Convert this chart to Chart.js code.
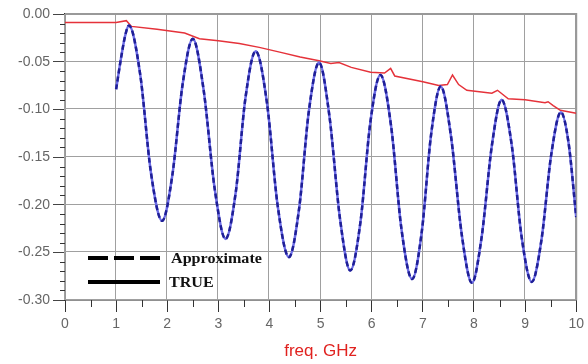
<!doctype html>
<html lang="en">
  <head>
    <meta charset="utf-8">
    <title>freq. GHz</title>
    <style>
      * { margin: 0; padding: 0; }
      body { background: white; }
      .chartBox { width: 588px; height: 364px; }
    </style>
  </head>
  <body>
    <div class="chartBox">
      <canvas id="myChart"></canvas>
    </div>

    <script src="https://cdn.jsdelivr.net/npm/chart.js/dist/chart.umd.min.js"></script>
    <script>
    // data
    const approxFreq = [1.00, 1.10, 1.18, 1.25, 1.47, 1.68, 1.90, 2.10, 2.30, 2.50, 2.71, 2.93, 3.14,
      3.34, 3.53, 3.73, 3.95, 4.16, 4.38, 4.58, 4.77, 4.97, 5.17, 5.38, 5.58, 5.78, 5.97, 6.17,
      6.38, 6.58, 6.79, 6.98, 7.16, 7.35, 7.55, 7.76, 7.96, 8.15, 8.35, 8.54, 8.74, 8.93, 9.13,
      9.32, 9.51, 9.70, 9.85, 10.00];
    const approxVals = [-0.079, -0.045, -0.022, -0.012, -0.063, -0.166, -0.217, -0.169, -0.074, -0.026, -0.079, -0.184, -0.236,
      -0.187, -0.088, -0.039, -0.093, -0.201, -0.255, -0.204, -0.102, -0.051, -0.106, -0.215, -0.269, -0.218, -0.115, -0.064,
      -0.118, -0.225, -0.278, -0.228, -0.127, -0.076, -0.128, -0.231, -0.282, -0.234, -0.138, -0.090, -0.138, -0.233, -0.281,
      -0.237, -0.148, -0.103, -0.135, -0.213];

    const trueFreq = [0, 1.00, 1.20, 1.30, 1.80, 2.34, 2.63, 3.00, 3.41, 3.80, 4.20, 4.60, 4.97, 5.20, 5.36,
      5.60, 5.98, 6.25, 6.37, 6.45, 7.00, 7.31, 7.48, 7.58, 7.70, 7.86, 8.35, 8.46, 8.67, 9.00,
      9.39, 9.45, 9.55, 9.69, 10.00];
    const trueVals = [-0.009, -0.009, -0.007, -0.013, -0.016, -0.020, -0.026, -0.028, -0.031, -0.035, -0.040, -0.045, -0.049, -0.052, -0.051,
      -0.056, -0.061, -0.062, -0.057, -0.065, -0.071, -0.075, -0.074, -0.064, -0.074, -0.080, -0.083, -0.080, -0.089, -0.090,
      -0.093, -0.092, -0.096, -0.101, -0.104];

    const xMin = 0, xMax = 10, xStep = 0.5;
    const yMin = -0.30, yMax = 0, yStep = 0.01;

    const approxPts = approxFreq.map((f, i) => ({ x: f, y: approxVals[i] }));
    const truePts = trueFreq.map((f, i) => ({ x: f, y: trueVals[i] }));

    const isMajorX = v => Math.abs(v - Math.round(v)) < 1e-6;
    const isMajorY = v => Math.abs(v * 100 / 5 - Math.round(v * 100 / 5)) < 1e-6;

    // grid, frame, minor ticks and legend
    const extras = {
      id: 'extras',
      beforeDatasetsDraw(chart) {
        const { ctx, chartArea: a, scales: { x, y } } = chart;
        ctx.save();
        ctx.fillStyle = '#a0a0a0';
        x.ticks.forEach(t => {
          if (!isMajorX(t.value)) return;
          const px = Math.round(x.getPixelForValue(t.value));
          ctx.fillRect(px - 1, a.top, 1, a.bottom - a.top);
        });
        y.ticks.forEach(t => {
          if (!isMajorY(t.value)) return;
          const py = Math.round(y.getPixelForValue(t.value));
          ctx.fillRect(a.left, py - 1, a.right - a.left, 1);
        });

        ctx.strokeStyle = '#999';
        ctx.lineWidth = 2;
        ctx.beginPath();
        ctx.moveTo(a.left, a.top);
        ctx.lineTo(a.right, a.top);
        ctx.lineTo(a.right, a.bottom);
        ctx.stroke();
        ctx.restore();
      },
      afterDraw(chart) {
        const { ctx, chartArea: a, scales: { x, y } } = chart;
        ctx.save();
        ctx.strokeStyle = '#333';
        ctx.lineWidth = 1;
        ctx.beginPath();
        y.ticks.forEach(t => {
          if (isMajorY(t.value)) return;
          const py = Math.round(y.getPixelForValue(t.value)) + 0.5;
          ctx.moveTo(a.left - 5, py);
          ctx.lineTo(a.left, py);
        });
        x.ticks.forEach(t => {
          if (isMajorX(t.value)) return;
          const px = Math.round(x.getPixelForValue(t.value)) + 0.5;
          ctx.moveTo(px, a.bottom);
          ctx.lineTo(px, a.bottom + 7);
        });
        ctx.stroke();

        // legend
        ctx.strokeStyle = '#000';
        ctx.lineWidth = 4;
        ctx.setLineDash([20, 6]);
        ctx.beginPath();
        ctx.moveTo(88, 258);
        ctx.lineTo(160, 258);
        ctx.stroke();
        ctx.setLineDash([]);
        ctx.beginPath();
        ctx.moveTo(88, 282);
        ctx.lineTo(160, 282);
        ctx.stroke();

        ctx.fillStyle = '#111';
        ctx.font = 'bold 14px "Liberation Serif", serif';
        ctx.textBaseline = 'middle';
        ctx.translate(171, 0);
        ctx.scale(1.15, 1);
        ctx.fillText('Approximate', 0, 259);
        ctx.fillText('TRUE', -2 / 1.15, 283);
        ctx.restore();
      }
    };

    const config = {
      type: 'scatter',
      data: {
        datasets: [
          {
            label: 'Approximate',
            data: approxPts,
            showLine: true,
            borderColor: '#1f1f96',
            borderWidth: 2.5,
            borderDash: [5, 3],
            pointRadius: 0,
            cubicInterpolationMode: 'monotone'
          },
          {
            label: 'Approximate base',
            data: approxPts,
            showLine: true,
            borderColor: '#6c6ce6',
            borderWidth: 2.5,
            pointRadius: 0,
            cubicInterpolationMode: 'monotone'
          },
          {
            label: 'TRUE',
            data: truePts,
            showLine: true,
            borderColor: '#e5323a',
            borderWidth: 1.5,
            pointRadius: 0,
            tension: 0
          }
        ]
      },
      options: {
        responsive: true,
        maintainAspectRatio: false,
        animation: false,
        layout: { padding: { top: 14, right: 10, left: 0, bottom: 0 } },
        plugins: {
          legend: { display: false },
          tooltip: { enabled: false }
        },
        scales: {
          x: {
            type: 'linear',
            min: xMin,
            max: xMax,
            afterFit: s => { s.height = 64; },
            border: { color: '#222', width: 1.5 },
            grid: {
              drawOnChartArea: false,
              tickColor: c => (c.tick && isMajorX(c.tick.value)) ? '#333' : 'rgba(0,0,0,0)',
              tickLength: 12
            },
            ticks: {
              stepSize: xStep,
              autoSkip: false,
              maxRotation: 0,
              padding: 4,
              color: '#666',
              font: { family: 'Arial, "Liberation Sans", sans-serif', size: 14 },
              callback: v => isMajorX(v) ? String(Math.round(v)) : ''
            },
            title: {
              display: true,
              text: 'freq. GHz',
              color: '#e0221f',
              font: { family: 'Arial, "Liberation Sans", sans-serif', size: 17 },
              padding: { top: 0, bottom: 2 }
            }
          },
          y: {
            type: 'linear',
            min: yMin,
            max: yMax,
            afterFit: s => { s.width = 65; },
            border: { color: '#333', width: 1.5 },
            grid: {
              drawOnChartArea: false,
              tickColor: c => (c.tick && isMajorY(c.tick.value)) ? '#444' : 'rgba(0,0,0,0)',
              tickLength: 12
            },
            ticks: {
              stepSize: yStep,
              autoSkip: false,
              padding: 3,
              color: '#666',
              font: { family: 'Arial, "Liberation Sans", sans-serif', size: 14 },
              callback: v => isMajorY(v) ? v.toFixed(2) : ''
            }
          }
        }
      },
      plugins: [extras]
    };

    const myChart = new Chart(document.getElementById('myChart'), config);
    </script>
  </body>
</html>
